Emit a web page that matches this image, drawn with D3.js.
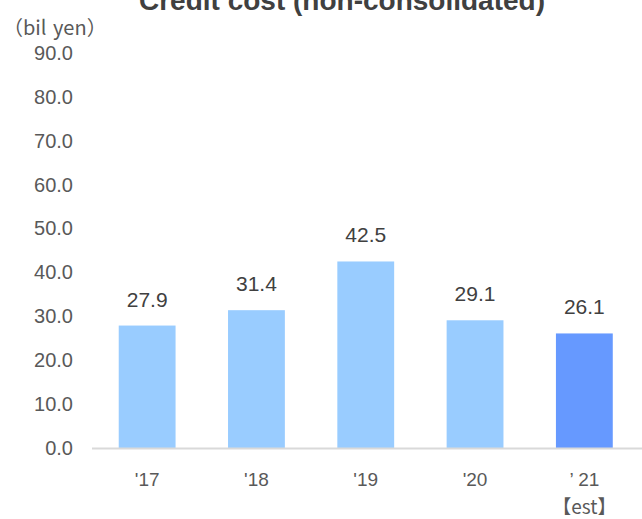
<!DOCTYPE html>
<html><head><meta charset="utf-8">
<script src="https://cdn.jsdelivr.net/npm/d3@7"></script>
<style>body{margin:0;background:#fff}svg{display:block}</style>
</head><body>
<script>
const categories = ["'17", "'18", "'19", "'20", "’ 21"];
const subLabels = ["", "", "", "", "【est】"];
const values = [27.9, 31.4, 42.5, 29.1, 26.1];
const barColors = ["#99ccff", "#99ccff", "#99ccff", "#99ccff", "#6699ff"];
const yTicks = [0, 10, 20, 30, 40, 50, 60, 70, 80, 90];
const title = "Credit cost (non-consolidated)";
const unitLabel = "（bil yen）";

const W = 642, H = 519;
const cjk = "'Noto Sans CJK JP', 'Noto Sans', sans-serif";
const sans = "'Liberation Sans', Arial, sans-serif";
const svg = d3.select("body").append("svg").attr("width", W).attr("height", H);

const x = d3.scaleBand().domain(categories).range([92.5, 639]).paddingInner(0.48).paddingOuter(0.24);
const y = d3.scaleLinear().domain([0, 90]).range([448, 53]);

svg.append("text").attr("x", 342).attr("y", 10).attr("text-anchor", "middle")
  .attr("font-family", sans).attr("font-weight", "bold").attr("font-size", 28).attr("fill", "#404040").text(title);

svg.append("text").attr("x", 3).attr("y", 35).attr("font-family", cjk).attr("font-size", 20)
  .attr("word-spacing", 2).attr("fill", "#595959").text(unitLabel);

const yAxis = d3.axisLeft(y).tickValues(yTicks).tickFormat(d3.format(".1f")).tickSize(0).tickPadding(0);
const yg = svg.append("g").attr("transform", "translate(73,0)").call(yAxis);
yg.select(".domain").remove();
yg.selectAll("text").attr("font-family", sans).attr("font-size", 20).attr("fill", "#595959");

svg.selectAll("rect.bar").data(values).enter().append("rect").attr("class", "bar")
  .attr("x", (d, i) => x(categories[i])).attr("width", x.bandwidth())
  .attr("y", d => y(d)).attr("height", d => y(0) - y(d))
  .attr("fill", (d, i) => barColors[i]);

svg.append("line").attr("x1", 92).attr("x2", 642).attr("y1", y(0) + 0.5).attr("y2", y(0) + 0.5)
  .attr("stroke", "#d9d9d9").attr("stroke-width", 2);

svg.selectAll("text.xl").data(categories).enter().append("text").attr("class", "xl")
  .attr("x", d => x(d) + x.bandwidth() / 2).attr("y", 486).attr("text-anchor", "middle")
  .attr("font-family", sans).attr("font-size", 19).attr("fill", "#595959").text(d => d);

svg.selectAll("text.sub").data(subLabels).enter().append("text").attr("class", "sub")
  .attr("x", (d, i) => x(categories[i]) + x.bandwidth() / 2).attr("y", 514).attr("text-anchor", "middle")
  .attr("font-family", cjk).attr("font-size", 19).attr("fill", "#595959").text(d => d);

svg.selectAll("text.val").data(values).enter().append("text").attr("class", "val")
  .attr("x", (d, i) => x(categories[i]) + x.bandwidth() / 2).attr("y", d => y(d) - 19)
  .attr("text-anchor", "middle").attr("font-family", sans).attr("font-size", 21)
  .attr("fill", "#404040").text(d => d.toFixed(1));
</script>
</body></html>
